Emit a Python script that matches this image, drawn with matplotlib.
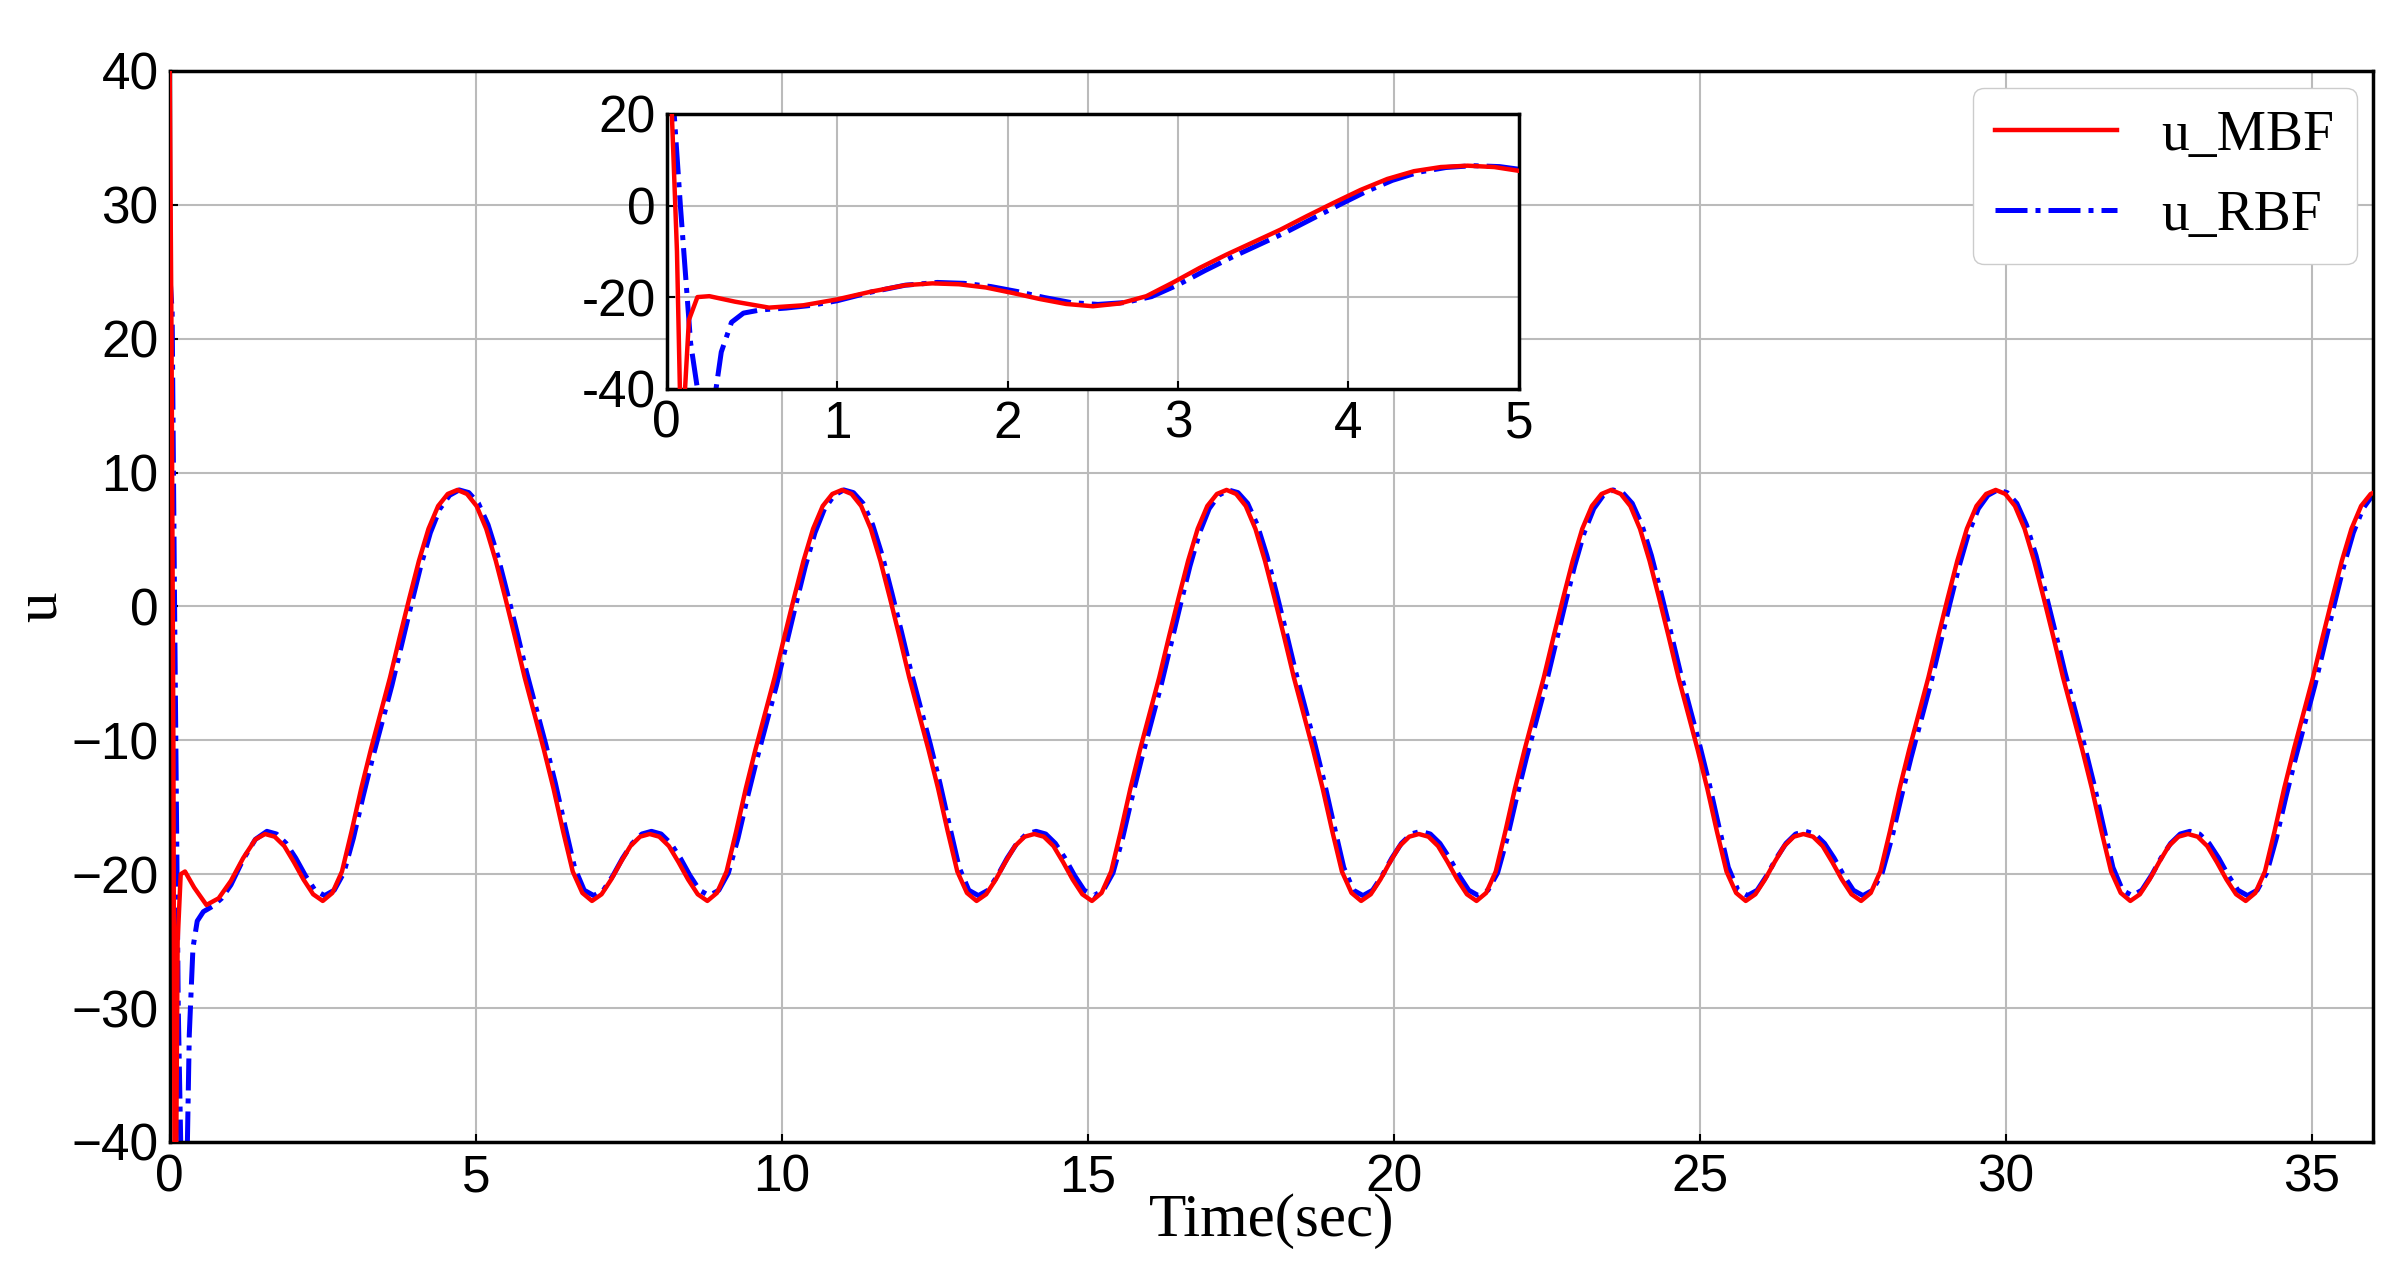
import numpy as np
import matplotlib
matplotlib.use("Agg")
import matplotlib.pyplot as plt
import matplotlib.ticker as mtick

T_START_MBF = [0.0, 0.03, 0.06, 0.08, 0.10, 0.13, 0.18, 0.25, 0.40, 0.60, 0.80, 1.00, 1.20, 1.40]
U_START_MBF = [40.0, 20.0, -10.0, -45.0, -45.0, -25.0, -20.0, -19.8, -21.0, -22.3, -21.8, -20.5, -18.8, -17.4]
T_START_RBF = [0.0, 0.04, 0.08, 0.14, 0.20, 0.27, 0.32, 0.38, 0.45, 0.55, 0.70, 0.85, 1.00, 1.20, 1.40]
U_START_RBF = [25.0, 22.0, 0.0, -30.0, -45.0, -45.0, -32.0, -25.5, -23.5, -22.8, -22.4, -21.8, -20.8, -18.9, -17.4]

# one steady-state period (step = period/40), starting at the small local max near t=1.56
PERIOD_MBF = [-17.0, -17.2, -17.9, -19.1, -20.4, -21.5, -22.0, -21.4, -19.8, -16.8,
              -13.6, -10.7, -8.0, -5.3, -2.3, 0.6, 3.4, 5.8, 7.5, 8.4,
              8.7, 8.4, 7.5, 5.8, 3.4, 0.6, -2.3, -5.3, -8.0, -10.7,
              -13.6, -16.8, -19.8, -21.4, -22.0, -21.5, -20.4, -19.1, -17.9, -17.2]
PERIOD_RBF = [-16.8, -17.0, -17.7, -18.8, -20.1, -21.2, -21.6, -21.2, -19.9, -17.3,
              -14.2, -11.3, -8.6, -5.9, -2.9, 0.1, 3.0, 5.5, 7.3, 8.3,
              8.7, 8.5, 7.7, 6.1, 3.8, 1.0, -1.9, -4.9, -7.6, -10.3,
              -13.2, -16.4, -19.5, -21.2, -21.6, -21.2, -20.1, -18.8, -17.7, -17.0]
N_PERIODS = 6
T0, PERIOD = 1.558, 6.283

step = PERIOD / len(PERIOD_MBF)
n = len(PERIOD_MBF) * N_PERIODS + 1
t_ss = T0 + step * np.arange(n)
u_mbf = np.array(U_START_MBF + (PERIOD_MBF * (N_PERIODS + 1))[:n])
u_rbf = np.array(U_START_RBF + (PERIOD_RBF * (N_PERIODS + 1))[:n])
t_mbf = np.concatenate([T_START_MBF, t_ss])
t_rbf = np.concatenate([T_START_RBF, t_ss + 0.03])

TICKFONT = ["Liberation Sans Narrow", "Liberation Sans", "DejaVu Sans"]
SERIF = ["Liberation Serif", "DejaVu Serif"]

fig = plt.figure(figsize=(24.07, 12.66), dpi=100)
ax = fig.add_axes([0.0705, 0.098, 0.9155, 0.846])


def style(a, fs):
    a.grid(True, color="#bbbbbb", linewidth=1.5)
    a.set_axisbelow(True)
    a.tick_params(direction="in", length=6, width=1.5, labelsize=fs, pad=8)
    for s in a.spines.values():
        s.set_linewidth(2.5)
    for lab in a.get_xticklabels() + a.get_yticklabels():
        lab.set_family(TICKFONT)


def plot_lines(a, lw):
    a.plot(t_mbf, u_mbf, color="red", lw=lw, label="u_MBF", zorder=3)
    a.plot(t_rbf, u_rbf, color="blue", lw=lw + 0.4, ls="-.", label="u_RBF", zorder=2)


plot_lines(ax, 3.2)
ax.set_xlim(0, 36)
ax.set_ylim(-40, 40)
ax.set_xticks(range(0, 36, 5))
ax.set_yticks(range(-40, 41, 10))
ax.yaxis.set_major_formatter(mtick.FuncFormatter(lambda v, _p: f"{v:.0f}".replace("-", "\u2212")))
style(ax, 37)
ax.set_xlabel("Time(sec)", family=SERIF, fontsize=44, labelpad=-6)
ax.set_ylabel("u", family=SERIF, fontsize=44, labelpad=2)
leg = ax.legend(loc="upper right", prop={"family": SERIF, "size": 40},
                handlelength=2.2, borderaxespad=0.3, fancybox=True, framealpha=1)
leg.get_frame().set_edgecolor("#cccccc")

ins = fig.add_axes([0.277, 0.693, 0.354, 0.217])
plot_lines(ins, 3.2)
ins.set_xlim(0, 5)
ins.set_ylim(-40, 20)
ins.set_xticks(range(0, 6))
ins.set_yticks([-40, -20, 0, 20])
ins.yaxis.set_major_formatter(mtick.FuncFormatter(lambda v, _p: f"{v:.0f}"))
style(ins, 37)

fig.savefig("out.png")
